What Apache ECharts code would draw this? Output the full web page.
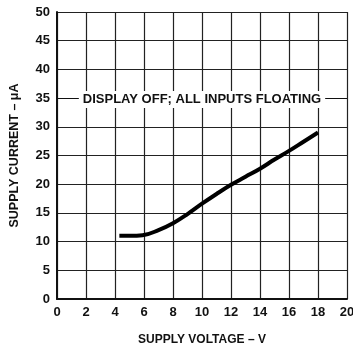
<!DOCTYPE html>
<html>
<head>
<meta charset="utf-8">
<script src="https://cdn.jsdelivr.net/npm/echarts@6/dist/echarts.min.js"></script>
<style>
  html, body { margin: 0; padding: 0; background: #fff; }
  #chart { width: 353px; height: 348px; }
</style>
</head>
<body>
<div id="chart"></div>
<script>
// Curve (supply voltage V, supply current uA)
var voltage = [4.3, 5.0, 5.9, 7.0, 8.0, 9.0, 10.0, 11.0, 12.0, 13.0, 14.0, 15.0, 16.0, 17.0, 18.0];
var current = [11.0, 11.0, 11.1, 12.0, 13.2, 14.8, 16.6, 18.3, 19.9, 21.3, 22.7, 24.3, 25.8, 27.4, 29.0];
var noteLevel = 35;
var noteText = 'DISPLAY OFF; ALL INPUTS FLOATING';

var dom = document.getElementById('chart');
var myChart = echarts.init(dom, null, { renderer: 'canvas' });

var font = 'Liberation Sans, Arial, sans-serif';

var points = voltage.map(function (v, i) { return [v, current[i]]; });

var option = {
    animation: false,
    backgroundColor: '#fff',
    grid: {
        left: 57,
        right: 6,
        top: 12,
        bottom: 49,
        containLabel: false,
        outerBoundsMode: 'none'
    },
    xAxis: {
        type: 'value',
        min: 0,
        max: 20,
        interval: 2,
        name: 'SUPPLY VOLTAGE – V',
        nameLocation: 'middle',
        nameGap: 35,
        nameTextStyle: { color: '#111', fontFamily: font, fontWeight: 'bold', fontSize: 12 },
        axisLine: { show: true, lineStyle: { color: '#111', width: 2 } },
        axisTick: { show: false },
        axisLabel: { color: '#111', fontFamily: font, fontWeight: 'bold', fontSize: 13, margin: 7 },
        splitLine: { show: true, lineStyle: { color: '#222', width: 1.2 } }
    },
    yAxis: {
        type: 'value',
        min: 0,
        max: 50,
        interval: 5,
        name: 'SUPPLY CURRENT – μA',
        nameLocation: 'middle',
        nameGap: 36,
        nameTextStyle: { color: '#111', fontFamily: font, fontWeight: 'bold', fontSize: 12.5 },
        axisLine: { show: true, lineStyle: { color: '#111', width: 2 } },
        axisTick: { show: false },
        axisLabel: { color: '#111', fontFamily: font, fontWeight: 'bold', fontSize: 13, margin: 7 },
        splitLine: { show: true, lineStyle: { color: '#222', width: 1.2 } }
    },
    series: [
        {
            type: 'line',
            data: points,
            smooth: 0.4,
            showSymbol: false,
            lineStyle: { color: '#000', width: 4 },
            markLine: {
                silent: true,
                symbol: 'none',
                lineStyle: { color: '#111', width: 1.2, type: 'solid' },
                label: {
                    show: true,
                    position: 'middle',
                    formatter: noteText,
                    color: '#111',
                    fontFamily: font,
                    fontWeight: 'bold',
                    fontSize: 13,
                    backgroundColor: '#fff',
                    padding: [2, 4],
                    distance: -10
                },
                data: [{ yAxis: noteLevel }]
            }
        }
    ]
};

myChart.setOption(option);
</script>
</body>
</html>
